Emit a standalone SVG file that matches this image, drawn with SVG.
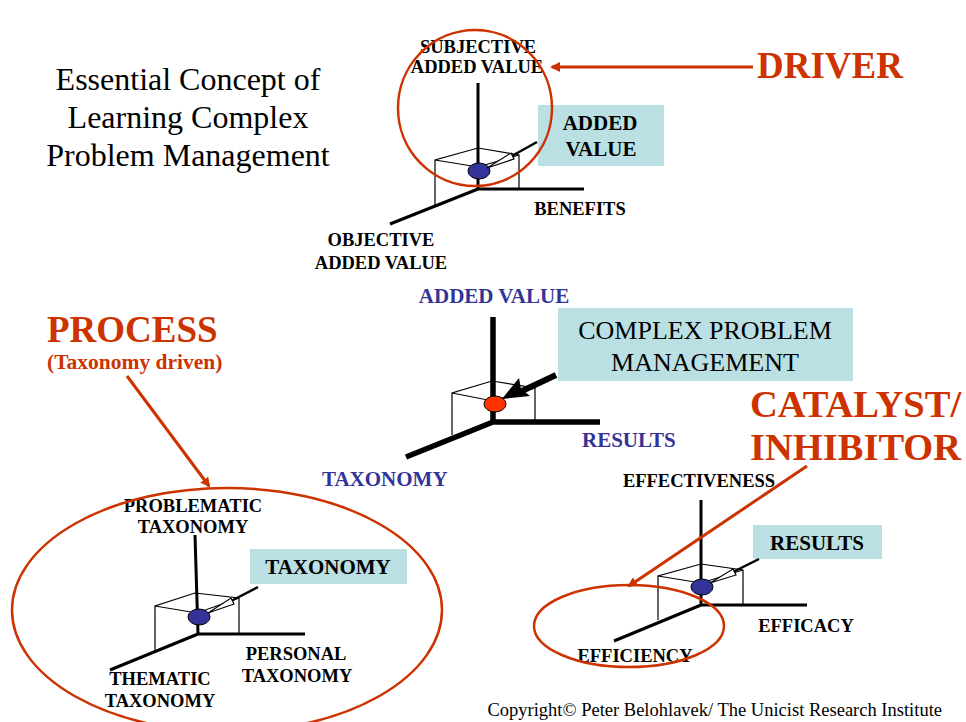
<svg xmlns="http://www.w3.org/2000/svg" width="966" height="722" viewBox="0 0 966 722">
<style>
text{font-family:"Liberation Serif","Times New Roman",serif}
.lbl{font-size:18.5px;font-weight:bold;fill:#000;text-anchor:middle}
.blu{font-size:21px;font-weight:bold;fill:#333399}
.red{font-weight:bold;fill:#cc3300}
.box{fill:#bbe0e3}
.bx{font-size:21px;font-weight:bold;text-anchor:middle}
.ax{stroke:#000;stroke-width:3;fill:none}
.axt{stroke:#000;stroke-width:5.5;fill:none}
.cube{stroke:#000;stroke-width:1.2;fill:none}
.dot{fill:#333399;stroke:#000;stroke-width:1}
.ring{fill:none;stroke:#cc3300;stroke-width:2.5}
.rarr{stroke:#cc3300;stroke-width:3;fill:none}
.ptr{stroke:#000;stroke-width:2.5;fill:none}
.head{fill:#fff;stroke:#000;stroke-width:1.2}
</style>
<defs>
<marker id="rh" markerWidth="10" markerHeight="10" refX="8" refY="5" orient="auto" markerUnits="userSpaceOnUse">
<path d="M0,0 L10,5 L0,10 z" fill="#cc3300"/>
</marker>
</defs>
<rect width="966" height="722" fill="#fff"/>

<g id="title">
<text x="188" y="90" font-size="32" text-anchor="middle">Essential Concept of</text>
<text x="188" y="128" font-size="32" text-anchor="middle">Learning Complex</text>
<text x="188" y="166" font-size="32" text-anchor="middle">Problem Management</text>
</g>

<g id="driver-diagram">
<path class="ax" d="M478,83 V189 H584 M478,189 L390,224"/>
<path class="cube" d="M435,206 V160 L478,148 L519,155 V189 M435,160 L478,167 L519,155"/>
<ellipse class="dot" cx="479" cy="171" rx="11" ry="8"/>
<text class="lbl" x="478" y="53">SUBJECTIVE</text>
<text class="lbl" x="477" y="73">ADDED VALUE</text>
<text class="lbl" x="580" y="215">BENEFITS</text>
<text class="lbl" x="381" y="246">OBJECTIVE</text>
<text class="lbl" x="381" y="269">ADDED VALUE</text>
</g>
<g id="added-value-box">
<rect class="box" x="538" y="105" width="126" height="61"/>
<text class="bx" x="600" y="130">ADDED</text>
<text class="bx" x="601" y="156">VALUE</text>
</g>
<g id="driver-ring"><ellipse class="ring" cx="475" cy="108" rx="77" ry="78"/></g>
<g id="driver-label"><text class="red" x="757" y="78" font-size="37">DRIVER</text></g>

<g id="center-diagram">
<path class="axt" d="M493,317 V422 H600 M493,422 L406,457"/>
<path class="cube" d="M452,435 V393 L492,381 L535,388 V422 M452,393 L493,401 L535,388"/>
<ellipse cx="495" cy="404" rx="11" ry="8" fill="#ff3300" stroke="#000" stroke-width="1"/>
<text class="blu" x="494" y="303" text-anchor="middle">ADDED VALUE</text>
<text class="blu" x="582" y="447">RESULTS</text>
<text class="blu" x="322" y="486">TAXONOMY</text>
</g>
<g id="cpm-box">
<rect class="box" x="558" y="308" width="295" height="73"/>
<text x="705" y="339" font-size="26" text-anchor="middle">COMPLEX PROBLEM</text>
<text x="705" y="371" font-size="26" text-anchor="middle">MANAGEMENT</text>
</g>

<g id="process-label">
<text class="red" x="47" y="342" font-size="37">PROCESS</text>
<text class="red" x="47" y="369" font-size="21.5">(Taxonomy driven)</text>
</g>
<g id="taxonomy-diagram">
<path class="ax" d="M195,535 L198,634 H305 M198,634 L110,670"/>
<path class="cube" d="M155,650 V606 L195,593 L239,598 V634 M155,606 L197,613 L239,598"/>
<ellipse class="dot" cx="199" cy="617" rx="11" ry="8"/>
<text class="lbl" x="193" y="512">PROBLEMATIC</text>
<text class="lbl" x="193" y="533">TAXONOMY</text>
<text class="lbl" x="296" y="660">PERSONAL</text>
<text class="lbl" x="297" y="682">TAXONOMY</text>
<text class="lbl" x="160" y="685">THEMATIC</text>
<text class="lbl" x="160" y="707">TAXONOMY</text>
</g>
<g id="taxonomy-box">
<rect class="box" x="250" y="549" width="157" height="35"/>
<text class="bx" x="328" y="574">TAXONOMY</text>
</g>
<g id="process-ring"><ellipse class="ring" cx="227" cy="610" rx="215" ry="122"/></g>

<g id="results-diagram">
<path class="ax" d="M701,500 V605 H807 M701,605 L614,641"/>
<path class="cube" d="M658,620 V576 L701,564 L743,570 V605 M658,576 L701,583 L743,570"/>
<ellipse class="dot" cx="702" cy="587" rx="11" ry="8"/>
<text class="lbl" x="699" y="487">EFFECTIVENESS</text>
<text class="lbl" x="806" y="632">EFFICACY</text>
<text class="lbl" x="635" y="662">EFFICIENCY</text>
</g>
<g id="results-box">
<rect class="box" x="753" y="525" width="129" height="34"/>
<text class="bx" x="817" y="550">RESULTS</text>
</g>
<g id="catalyst-ring"><ellipse class="ring" cx="629" cy="626" rx="95" ry="41"/></g>
<g id="catalyst-label">
<text class="red" x="750" y="417" font-size="38.5">CATALYST/</text>
<text class="red" x="750" y="460" font-size="38.5">INHIBITOR</text>
</g>

<g id="connectors">
<line class="rarr" x1="753" y1="67" x2="552" y2="67" marker-end="url(#rh)"/>
<line class="rarr" x1="127" y1="376" x2="209" y2="486" marker-end="url(#rh)"/>
<line class="rarr" x1="807" y1="466" x2="629" y2="586" marker-end="url(#rh)"/>
<line class="ptr" x1="537" y1="142" x2="510" y2="157"/>
<polygon class="head" points="487,168 511,153 514,159"/>
<line class="ptr" x1="258" y1="587" x2="231" y2="601"/>
<polygon class="head" points="208,613 231,598 234,604"/>
<line class="ptr" x1="759" y1="559" x2="733" y2="572"/>
<polygon class="head" points="710,583 733,569 736,575"/>
<line x1="556" y1="375" x2="522" y2="391" stroke="#000" stroke-width="6"/>
<polygon points="502,399 519,378 521,389 530,396" fill="#000"/>
</g>

<g id="copyright"><text x="942" y="716" font-size="18.5" text-anchor="end">Copyright© Peter Belohlavek/ The Unicist Research Institute</text></g>
</svg>
